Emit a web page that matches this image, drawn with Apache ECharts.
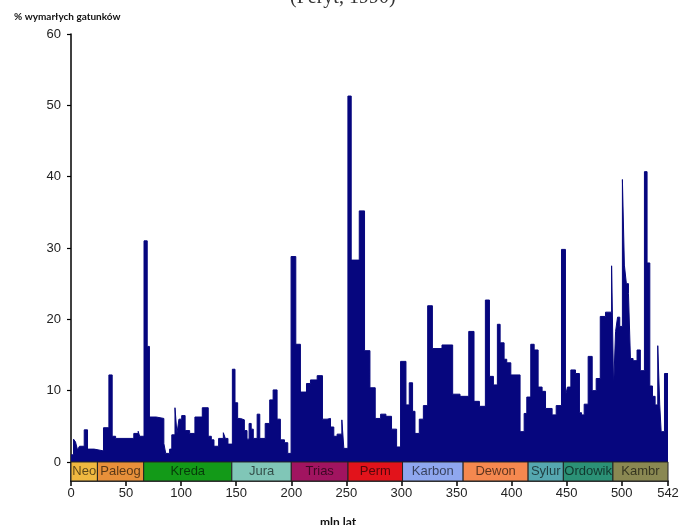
<!DOCTYPE html>
<html>
<head>
<meta charset="utf-8">
<script src="https://cdn.jsdelivr.net/npm/echarts@6/dist/echarts.min.js"></script>
<style>
html,body{margin:0;padding:0;background:#fff;}
#chart{width:688px;height:525px;}
</style>
</head>
<body>
<div id="chart"></div>
<script>
// Bin start ages (mln lat) and extinction values (%), last edge = 542
const binStarts = [
  0, 2.3, 4.1, 5.9, 7.7, 12, 15, 21, 29.5, 34.4, 37.4, 40.5, 57, 61, 62.3,
  66.3, 69.2, 71.2, 77.4, 84.3, 86, 89.5, 91.5, 94.4, 96.2, 98, 100.5, 103.6,
  107.7, 112.5, 119.2, 124.6, 127.4, 129.8, 134, 138.3, 140.1, 142.5,
  146.5, 148.9, 151.3, 153.8, 157.4, 159.8, 161.7, 163.6, 165.5, 169, 171.4,
  176.3, 180.4, 183.5, 187.1, 190.1, 193.8, 196.8,
  199.8, 204.1, 208.3, 213.8, 217.4, 223.5, 228.3, 232.5, 235.6, 238.6, 241.6,
  245.9, 247.7, 251.4, 254.4, 261.7, 266.5,
  271.4, 276.2, 281.1, 285.9, 291, 295.6, 299.2, 304.1, 307.1, 310.1, 312.3,
  316.2, 319.9, 323.8, 328.1, 336.8, 346.5, 353.2, 361.1, 365.9, 370.8, 376.2,
  379.9, 383.5, 387.1, 389.6, 393.2, 395.6, 399.3,
  407.7, 411.4, 413.8, 417.4, 420.5, 424.1, 427.7, 430.8, 436.8, 440.5, 445.3,
  448.9, 450.7, 453.8, 458, 461.6, 463.5, 465.9, 469.5, 473.2, 476.8, 480.5,
  485.3, 490.8, 492.6, 494.4, 496.2, 498.2, 500.6, 502.4, 504.2, 506.1, 507.9,
  510.3, 513.9, 516.9, 520.6, 523, 525.5, 527.9, 530.3, 532.7, 534.5, 535.8, 538.8
];
const extinction = [
  1.0, 3.2, 2.8, 1.7, 2.2, 4.5, 1.8, 1.55, 4.8, 12.2, 3.6, 3.3, 4.0, 4.3, 3.6,
  31.0, 16.2, 6.3, 6.1, 2.6, 1.2, 1.8, 3.8, 7.6, 4.0, 6.0, 6.5, 4.4,
  4.0, 6.3, 7.6, 3.6, 3.1, 2.2, 3.3, 4.1, 3.3, 2.5,
  13.0, 8.3, 6.1, 5.9, 4.4, 3.2, 5.4, 4.6, 3.3, 6.7, 3.3,
  5.4, 8.7, 10.1, 6.0, 3.1, 2.7, 1.2,
  28.8, 16.5, 9.8, 11.0, 11.5, 12.1, 6.0, 6.1, 4.9, 3.6, 3.9,
  5.9, 1.9, 51.3, 28.3, 35.2, 15.6,
  10.4, 6.1, 6.7, 6.4, 4.6, 2.1, 14.1, 8.0, 11.1, 7.1, 4.0,
  6.0, 7.9, 21.9, 15.9, 16.4, 9.5, 9.2, 18.3, 8.5, 7.8, 22.7,
  12.0, 10.8, 19.3, 16.7, 14.4, 13.9, 12.2,
  4.25, 6.8, 9.1, 16.5, 15.7, 10.5, 9.9, 7.5, 6.6, 7.9, 29.8,
  9.25, 10.5, 12.9, 12.4, 6.9, 6.6, 8.1, 14.8, 10.0, 11.7, 20.4,
  21.0, 27.5, 10.3, 18.3, 20.3, 19.0, 39.6, 27.6, 25.0, 23.6, 14.5,
  14.2, 15.7, 12.8, 40.7, 27.9, 10.65, 9.2, 8.0, 16.3, 8.0, 4.25, 12.4
];
const endAge = 542;

const periodNames = ['Neo','Paleog','Kreda','Jura','Trias','Perm','Karbon','Dewon','Sylur','Ordowik','Kambr'];
const periodBounds = [0, 24, 66, 146, 200, 251.5, 301, 356, 415, 447, 492, 542];
const periodColors = ['#f0b840','#e8903a','#139a18','#80c6b7','#a11460','#e2131b','#8fa7ef','#f5884f','#55a7b0','#2b9176','#8a8852'];

const yTicks = [0, 10, 20, 30, 40, 50, 60];
const xTicks = [0, 50, 100, 150, 200, 250, 300, 350, 400, 450, 500, 542];

const yMin = -2.67;

const stepData = binStarts.map((s, i) => [s, extinction[i]]);
stepData.push([endAge, extinction[extinction.length - 1]]);

const periodData = periodNames.map((n, i) => [periodBounds[i], periodBounds[i + 1], n, i]);

const chart = echarts.init(document.getElementById('chart'), null, {renderer: 'canvas'});
chart.setOption({
  backgroundColor: '#ffffff',
  animation: false,
  title: [
    {text: '(Feryt, 1990)', left: 290, top: -12, padding: 0,
     textStyle: {fontFamily: 'Liberation Serif', fontSize: 20, fontWeight: 'normal', color: '#333'}},
    {text: '% wymarłych gatunków', left: 14, top: 12, padding: 0,
     textStyle: {fontFamily: 'Lato', fontSize: 10, fontWeight: 'bold', color: '#111'}},
    {text: 'mln lat', left: 320, top: 516, padding: 0,
     textStyle: {fontFamily: 'Lato', fontSize: 12, fontWeight: 'bold', color: '#111'}}
  ],
  grid: {left: 71, right: 20, top: 34, bottom: 44},
  xAxis: {
    type: 'value', min: 0, max: endAge,
    axisLine: {show: true, onZero: false, lineStyle: {color: '#000', width: 1.5}},
    axisTick: {show: true, length: 5, customValues: xTicks, lineStyle: {color: '#000', width: 1.5}},
    axisLabel: {customValues: xTicks, margin: 6, fontFamily: 'Liberation Sans', fontSize: 13, color: '#222'},
    splitLine: {show: false}
  },
  yAxis: {
    type: 'value', min: yMin, max: 60,
    axisLine: {show: true, onZero: false, lineStyle: {color: '#000', width: 1.5}},
    axisTick: {show: true, length: 4, customValues: yTicks, lineStyle: {color: '#000', width: 1.2}},
    axisLabel: {customValues: yTicks, margin: 10, fontFamily: 'Liberation Sans', fontSize: 13, color: '#222'},
    splitLine: {show: false}
  },
  series: [
    {
      type: 'line',
      step: 'end',
      data: stepData,
      showSymbol: false,
      lineStyle: {color: '#06067e', width: 1},
      areaStyle: {color: '#06067e', opacity: 1, origin: 'auto'},
      z: 2
    },
    {
      type: 'custom',
      data: periodData,
      encode: {x: [0, 1]},
      renderItem: function (params, api) {
        const i = api.value(3);
        const p0 = api.coord([api.value(0), 0]);
        const p1 = api.coord([api.value(1), yMin]);
        return {
          type: 'group',
          children: [
            {type: 'rect', shape: {x: p0[0], y: p0[1], width: p1[0] - p0[0], height: p1[1] - p0[1]},
             style: {fill: periodColors[i], stroke: '#222', lineWidth: 1}},
            {type: 'text', style: {text: periodNames[i], x: (p0[0] + p1[0]) / 2, y: (p0[1] + p1[1]) / 2,
              align: 'center', verticalAlign: 'middle', fontFamily: 'Liberation Sans', fontSize: 13,
              fill: 'rgba(0,0,0,0.62)'}}
          ]
        };
      },
      z: 3
    }
  ]
});
</script>
</body>
</html>
